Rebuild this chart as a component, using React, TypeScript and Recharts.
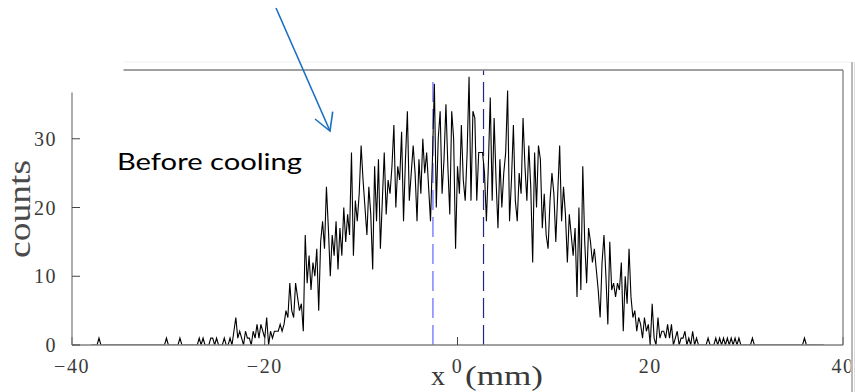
import { LineChart, Line, XAxis, YAxis, ReferenceLine } from 'recharts'

// histogram of x0 positions, 0.2 mm bins starting at -38 mm
const BIN_START = -38
const BIN_WIDTH = 0.2

// -38.0 .. -28.2
const TAIL_LEFT = [0, 0, 0, 0, 1, 0, 0, 0, 0, 0, 0, 0, 0, 0, 0, 0, 0, 0, 0, 0, 0, 0, 0, 0, 0, 0, 0, 0, 0, 0, 0, 0, 0, 0, 0, 0, 0, 0, 0, 1, 0, 0, 0, 0, 0, 0, 1, 0, 0, 0]
// -28.0 .. -18.2
const RISE_LOW = [0, 0, 0, 0, 0, 0, 1, 0, 1, 0, 0, 0, 1, 1, 0, 1, 0, 0, 0, 1, 0, 0, 1, 0, 2, 4, 1, 2, 1, 0, 2, 1, 1, 0, 2, 1, 3, 1, 3, 2, 1, 4, 0, 2, 1, 2, 2, 2, 3, 2]
// -18.0 .. -8.2
const RISE_HIGH = [3, 5, 4, 9, 5, 4, 9, 7, 5, 6, 2, 16, 9, 13, 8, 12, 10, 14, 5, 15, 18, 14, 23, 17, 10, 16, 13, 18, 11, 17, 13, 20, 15, 19, 16, 28, 13, 21, 18, 22, 29, 24, 20, 16, 23, 19, 11, 26, 18, 27]
// -8.0 .. 1.8
const PEAK_LEFT = [14, 21, 28, 19, 24, 22, 26, 32, 20, 26, 24, 31, 18, 27, 34, 21, 25, 29, 25, 18, 27, 22, 30, 25, 28, 23, 18, 27, 38, 20, 30, 34, 22, 27, 35, 26, 19, 34, 30, 14, 26, 22, 32, 24, 21, 28, 39, 21, 34, 33]
// 2.0 .. 11.8
const PEAK_RIGHT = [21, 28, 28, 28, 25, 18, 26, 36, 21, 33, 24, 17, 27, 20, 25, 28, 37, 18, 24, 32, 21, 18, 25, 22, 33, 26, 21, 29, 23, 12, 28, 20, 29, 27, 17, 22, 16, 14, 21, 25, 22, 15, 22, 29, 18, 23, 19, 12, 19, 16]
// 12.0 .. 21.8
const FALL = [13, 17, 7, 20, 8, 26, 15, 9, 17, 15, 12, 14, 11, 8, 4, 12, 16, 10, 3, 15, 8, 9, 7, 9, 8, 12, 2, 10, 6, 14, 7, 4, 5, 2, 4, 3, 1, 4, 2, 3, 0, 6, 1, 0, 4, 1, 2, 2, 1, 3]
// 22.0 .. 31.8
const TAIL_RIGHT = [1, 3, 0, 1, 2, 0, 1, 1, 2, 0, 1, 0, 2, 0, 1, 0, 0, 0, 0, 0, 1, 0, 0, 0, 1, 0, 1, 0, 1, 0, 1, 0, 1, 0, 1, 0, 1, 0, 0, 0, 0, 0, 0, 1, 0, 0, 0, 0, 0, 0]
// 32.0 .. 38.0
const TAIL_FAR = [0, 0, 0, 0, 0, 0, 0, 0, 0, 0, 0, 0, 0, 0, 0, 0, 0, 0, 0, 0, 1, 0, 0, 0, 0, 0, 0, 0, 0, 0, 0]

const X_TICKS = [-40, -20, 0, 20, 40]
const Y_TICKS = [0, 10, 20, 30]
const BLUE_MARKER_X = -2.55
const DARK_MARKER_X = 2.7

const counts = [...TAIL_LEFT, ...RISE_LOW, ...RISE_HIGH, ...PEAK_LEFT, ...PEAK_RIGHT, ...FALL, ...TAIL_RIGHT, ...TAIL_FAR]
const data = counts.map((y, i) => ({ x: Math.round((BIN_START + i * BIN_WIDTH) * 10) / 10, y }))

const tickFont = { fontFamily: 'Liberation Serif', fontSize: 20, fill: '#3a3a3a', letterSpacing: 1.5 }
const fmt = (v: number) => (v < 0 ? `\u2212${-v}` : `${v}`)
const axisStroke = { stroke: '#808080', strokeWidth: 1.3 }
const tickStroke = { stroke: '#444' }

export default function App() {
  return (
    <div style={{ position: 'absolute', left: 0, top: 0, width: 855, height: 392, background: '#fff' }}>
      <LineChart width={855} height={392} data={data} margin={{ top: 60, right: 2, bottom: 17, left: 32 }}>
        <XAxis
          dataKey="x"
          type="number"
          domain={[-40, 40]}
          ticks={X_TICKS}
          tickFormatter={fmt}
          height={30}
          tickSize={-8}
          tickMargin={22}
          tick={tickFont}
          axisLine={axisStroke}
          tickLine={tickStroke}
          allowDataOverflow
        />
        <XAxis
          xAxisId="top"
          orientation="top"
          type="number"
          domain={[-40, 40]}
          ticks={X_TICKS}
          height={10}
          tickSize={-8}
          tick={false}
          axisLine={axisStroke}
          tickLine={tickStroke}
        />
        <YAxis
          type="number"
          domain={[0, 40]}
          ticks={Y_TICKS}
          width={40}
          tickSize={-8}
          tickMargin={23}
          tick={tickFont}
          axisLine={axisStroke}
          tickLine={tickStroke}
          allowDataOverflow
        />
        <YAxis
          yAxisId="right"
          orientation="right"
          type="number"
          domain={[0, 40]}
          ticks={Y_TICKS}
          width={10}
          tickSize={-8}
          tick={false}
          axisLine={axisStroke}
          tickLine={tickStroke}
        />
        <ReferenceLine
          segment={[{ x: BLUE_MARKER_X, y: 0 }, { x: BLUE_MARKER_X, y: 38.8 }]}
          stroke="#7b7bff"
          strokeWidth={1.4}
          strokeDasharray="20 7"
        />
        <ReferenceLine
          segment={[{ x: DARK_MARKER_X, y: 0 }, { x: DARK_MARKER_X, y: 40 }]}
          stroke="#26268a"
          strokeWidth={1.2}
          strokeDasharray="20 7"
        />
        <Line
          type="linear"
          dataKey="y"
          stroke="#000"
          strokeWidth={1.1}
          dot={false}
          isAnimationActive={false}
        />
      </LineChart>
      <svg width={855} height={392} style={{ position: 'absolute', left: 0, top: 0, pointerEvents: 'none' }}>
        {/* slide cut-outs around the pasted figure */}
        <rect x={60} y={56} width={63.5} height={36.5} fill="#fff" />
        <line x1={124} y1={62} x2={851} y2={62} stroke="#f0f0f0" strokeWidth={1} />
        <rect x={850.5} y={62} width={5} height={330} fill="#fff" />
        <line x1={852} y1={62} x2={852} y2={392} stroke="#a0a0a0" strokeWidth={1.5} />
        <line x1={854.5} y1={62} x2={854.5} y2={392} stroke="#dcdcdc" strokeWidth={1} />

        <text x={19} y={209} transform="rotate(-90 19 209)" textAnchor="middle" dominantBaseline="central"
          fontFamily="Liberation Serif" fontSize={31} fill="#4a4a4a" textLength={98} lengthAdjust="spacingAndGlyphs">
          counts
        </text>
        <text fontFamily="Liberation Serif" fontSize={28} fill="#3a3a3a">
          <tspan x={431} y={385}>x</tspan>
          <tspan x={465} y={385} textLength={78} lengthAdjust="spacingAndGlyphs">(mm)</tspan>
        </text>

        <text x={117} y={170} fontFamily="Lato" fontSize={24} fill="#000" textLength={185} lengthAdjust="spacingAndGlyphs">
          Before cooling
        </text>
        <line x1={276} y1={8} x2={330} y2={131} stroke="#1a6fc4" strokeWidth={1.6} />
        <polyline points="315,119 330,131 332.7,111.7" fill="none" stroke="#1a6fc4" strokeWidth={1.6} />
      </svg>
    </div>
  )
}
